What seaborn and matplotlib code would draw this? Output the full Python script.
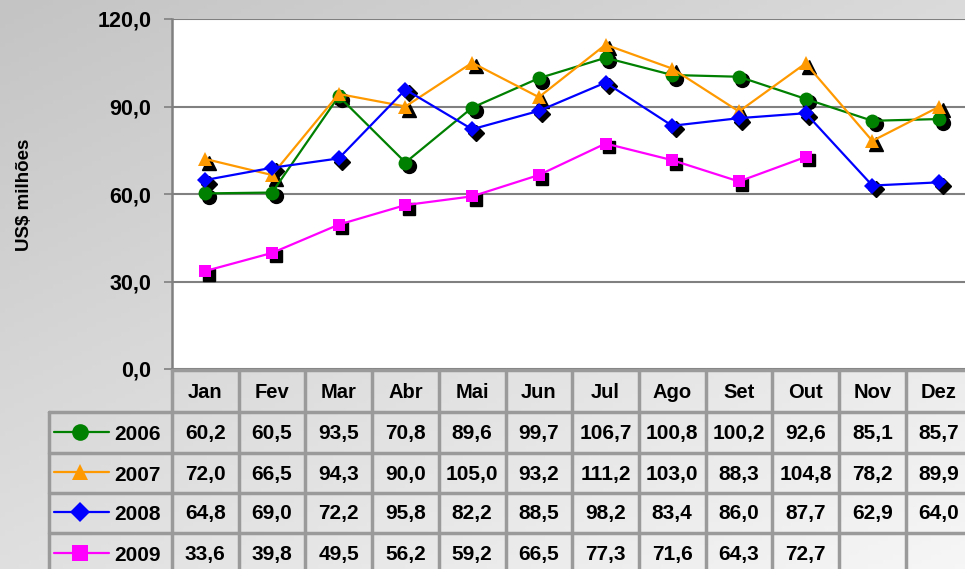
import numpy as np
import pandas as pd
import matplotlib
matplotlib.use("Agg")
import matplotlib.pyplot as plt
from matplotlib.transforms import offset_copy
import seaborn as sns

months = ['Jan', 'Fev', 'Mar', 'Abr', 'Mai', 'Jun', 'Jul', 'Ago', 'Set',
          'Out', 'Nov', 'Dez']
years = ['2006', '2007', '2008', '2009']
v2006 = [60.2, 60.5, 93.5, 70.8, 89.6, 99.7, 106.7, 100.8, 100.2, 92.6, 85.1, 85.7]
v2007 = [72.0, 66.5, 94.3, 90.0, 105.0, 93.2, 111.2, 103.0, 88.3, 104.8, 78.2, 89.9]
v2008 = [64.8, 69.0, 72.2, 95.8, 82.2, 88.5, 98.2, 83.4, 86.0, 87.7, 62.9, 64.0]
v2009 = [33.6, 39.8, 49.5, 56.2, 59.2, 66.5, 77.3, 71.6, 64.3, 72.7, np.nan, np.nan]
y_ticks = [0, 30, 60, 90, 120]

colors = ['#008000', '#FF9900', '#0000FF', '#FF00FF']
markers = ['o', '^', 'D', 's']
msizes = [10, 10, 8, 9]

df = pd.DataFrame({'mes': months * 4,
                   'pos': list(range(12)) * 4,
                   'ano': sum([[y] * 12 for y in years], []),
                   'valor': v2006 + v2007 + v2008 + v2009})

sns.set_style('white')
plt.rcParams['font.family'] = ['Liberation Sans', 'DejaVu Sans']
plt.rcParams['font.weight'] = 'bold'
plt.rcParams['text.color'] = 'black'
plt.rcParams['ytick.labelcolor'] = 'black'

W, H = 965, 569
fig = plt.figure(figsize=(W / 100, H / 100), dpi=100)

# background gradient
bg = fig.add_axes([0, 0, 1, 1], zorder=0)
gx, gy = np.meshgrid(np.linspace(0, 1, 200), np.linspace(0, 1, 120))
grad = 0.45 * gx + 0.55 * gy
bg.imshow(grad, cmap=matplotlib.colors.LinearSegmentedColormap.from_list(
    'g', ['#c4c4c4', '#f6f6f6']), aspect='auto', extent=[0, W, H, 0])
bg.set_xlim(0, W)
bg.set_ylim(H, 0)
bg.axis('off')

# plot area (pixel layout)
left, top, bottom = 172, 19, 369
colw = 66.7
right = left + 12 * colw
ax = fig.add_axes([left / W, 1 - bottom / H, (right - left) / W, (bottom - top) / H], zorder=2)
ax.set_facecolor('white')

for i, y in enumerate(years):
    d = df[df['ano'] == y]
    shadow = offset_copy(ax.transData, fig=fig, x=3.5, y=-3.5, units='dots')
    ax.plot(d['pos'], d['valor'], linestyle='none', marker=markers[i],
            markersize=msizes[i], color='black', transform=shadow, zorder=3)
    sns.lineplot(data=d, x='pos', y='valor', ax=ax, color=colors[i],
                 marker=markers[i], markersize=msizes[i], markeredgewidth=0,
                 linewidth=1.6, legend=False, zorder=4)

ax.set_xlim(-0.5, 11.5)
ax.set_ylim(0, 120)
ax.set_yticks(y_ticks)
ax.set_yticklabels([f'{t:.1f}'.replace('.', ',') for t in y_ticks], fontsize=15.5,
                   fontweight='bold', color='black')
ax.set_xticks([])
ax.set_xlabel('')
ax.set_ylabel('')
fig.text(25 / W, 1 - 195 / H, 'US$ milhões', rotation=90, ha='center',
         va='center', fontsize=13.5, fontweight='bold', color='black')
ax.grid(axis='y', color='#808080', linewidth=1.5)
ax.tick_params(axis='y', length=6, width=1.2, color='#808080', left=True, pad=9)
for s in ['top', 'right']:
    ax.spines[s].set_visible(False)
for s in ['left', 'bottom']:
    ax.spines[s].set_color('#808080')
    ax.spines[s].set_linewidth(1.8)
ax.set_axisbelow(True)

# data table below the plot
tb = fig.add_axes([0, 0, 1, 1], zorder=3)
tb.set_xlim(0, W)
tb.set_ylim(H, 0)
tb.axis('off')
bc = '#9a9a9a'
row_edges = [370, 412, 453, 493, 533, 574]
leg_left = 49
for j in range(13):
    x = left + j * colw
    tb.plot([x, x], [row_edges[0], row_edges[-1]], color=bc, lw=2.5)
tb.plot([leg_left, leg_left], [row_edges[1], row_edges[-1]], color=bc, lw=2.5)
tb.plot([left, right], [row_edges[0], row_edges[0]], color=bc, lw=2.5)
for r in row_edges[1:]:
    tb.plot([leg_left, right], [r, r], color=bc, lw=2.5)

for j, m in enumerate(months):
    tb.text(left + (j + 0.5) * colw, (row_edges[0] + row_edges[1]) / 2 + 1, m,
            ha='center', va='center', fontsize=14.5, fontweight='bold')

series = [v2006, v2007, v2008, v2009]
for i, y in enumerate(years):
    yc = (row_edges[i + 1] + row_edges[i + 2]) / 2 + 1
    tb.plot([54, 109], [yc - 2, yc - 2], color=colors[i], lw=1.6)
    tb.plot([80], [yc - 2], marker=markers[i], markersize=msizes[i] + 2,
            color=colors[i], markeredgewidth=0)
    tb.text(114, yc + 1, y, ha='left', va='center', fontsize=15, fontweight='bold')
    for j, v in enumerate(series[i]):
        if not np.isnan(v):
            tb.text(left + (j + 0.5) * colw, yc, f'{v:.1f}'.replace('.', ','),
                    ha='center', va='center', fontsize=15, fontweight='bold')

fig.savefig('out.png', dpi=100)
